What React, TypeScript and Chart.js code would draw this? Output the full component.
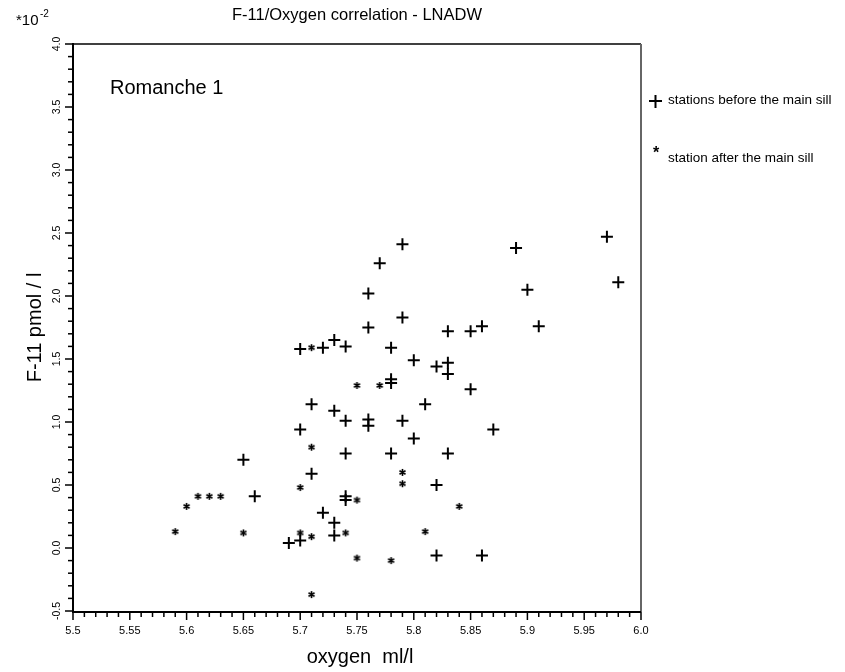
import React, { useEffect, useRef } from 'react';
import { Chart, registerables } from 'chart.js';

Chart.register(...registerables);

// stations before the main sill (+)
const beforeOxygen = [5.70, 5.72, 5.73, 5.74, 5.78, 5.78, 5.78, 5.71, 5.73, 5.74, 5.76, 5.76, 5.70, 5.74, 5.78, 5.65, 5.71, 5.66, 5.74, 5.74, 5.72, 5.73, 5.73, 5.70, 5.69, 5.76, 5.77, 5.76, 5.79, 5.89, 5.97, 5.98, 5.90, 5.79, 5.83, 5.85, 5.86, 5.91, 5.80, 5.82, 5.83, 5.83, 5.85, 5.81, 5.79, 5.80, 5.87, 5.83, 5.82, 5.82, 5.86];
const beforeF11 = [1.58, 1.59, 1.65, 1.60, 1.59, 1.34, 1.31, 1.14, 1.09, 1.01, 1.02, 0.97, 0.94, 0.75, 0.75, 0.70, 0.59, 0.41, 0.41, 0.38, 0.28, 0.20, 0.10, 0.06, 0.04, 1.75, 2.26, 2.02, 2.41, 2.38, 2.47, 2.11, 2.05, 1.83, 1.72, 1.72, 1.76, 1.76, 1.49, 1.44, 1.47, 1.38, 1.26, 1.14, 1.01, 0.87, 0.94, 0.75, 0.50, -0.06, -0.06];

// station after the main sill (*)
const afterOxygen = [5.71, 5.75, 5.77, 5.71, 5.70, 5.61, 5.62, 5.63, 5.60, 5.75, 5.59, 5.65, 5.70, 5.71, 5.74, 5.75, 5.78, 5.71, 5.79, 5.79, 5.84, 5.81];
const afterF11 = [1.59, 1.29, 1.29, 0.80, 0.48, 0.41, 0.41, 0.41, 0.33, 0.38, 0.13, 0.12, 0.12, 0.09, 0.12, -0.08, -0.10, -0.37, 0.60, 0.51, 0.33, 0.13];

const xTickValues = [5.5, 5.55, 5.6, 5.65, 5.7, 5.75, 5.8, 5.85, 5.9, 5.95, 6.0];
const xTickLabels = ['5.5', '5.55', '5.6', '5.65', '5.7', '5.75', '5.8', '5.85', '5.9', '5.95', '6.0'];
const yTickValues = [-0.5, 0, 0.5, 1.0, 1.5, 2.0, 2.5, 3.0, 3.5, 4.0];
const yTickLabels = ['-0.5', '0.0', '0.5', '1.0', '1.5', '2.0', '2.5', '3.0', '3.5', '4.0'];

const titleText = 'F-11/Oxygen correlation - LNADW';
const xTitle = 'oxygen  ml/l';
const yTitle = 'F-11 pmol / l';
const panelLabel = 'Romanche 1';
const legendBefore = 'stations before the main sill';
const legendAfter = 'station after the main sill';

const FONT = '"Liberation Sans", Arial, Helvetica, sans-serif';

function makeAsterisk(size: number, lw: number): HTMLCanvasElement {
  const c = document.createElement('canvas');
  c.width = size;
  c.height = size;
  const g = c.getContext('2d')!;
  const m = size / 2;
  const r = size / 2 - 1;
  g.strokeStyle = '#000';
  g.lineWidth = lw;
  g.lineCap = 'butt';
  g.beginPath();
  for (let k = 0; k < 3; k++) {
    const a = Math.PI / 2 + (k * Math.PI) / 3;
    g.moveTo(m - Math.cos(a) * r, m - Math.sin(a) * r);
    g.lineTo(m + Math.cos(a) * r, m + Math.sin(a) * r);
  }
  g.stroke();
  return c;
}

const decorPlugin = {
  id: 'decor',
  afterDraw(chart: any) {
    const ctx = chart.ctx as CanvasRenderingContext2D;
    const xs = chart.scales.x;
    const ys = chart.scales.y;
    const { left, right, top, bottom } = chart.chartArea;
    ctx.save();
    ctx.fillStyle = '#000';
    ctx.strokeStyle = '#000';

    // frame
    ctx.lineWidth = 1.5;
    ctx.beginPath();
    ctx.moveTo(left, top);
    ctx.lineTo(right, top);
    ctx.stroke();
    ctx.strokeStyle = '#666';
    ctx.lineWidth = 2;
    ctx.beginPath();
    ctx.moveTo(right, top);
    ctx.lineTo(right, bottom + 1);
    ctx.stroke();
    ctx.strokeStyle = '#000';
    ctx.lineWidth = 2;
    ctx.beginPath();
    ctx.moveTo(left, top - 1);
    ctx.lineTo(left, bottom + 1);
    ctx.lineTo(right, bottom + 1);
    ctx.stroke();

    // x ticks (minor 0.01, major 0.05)
    ctx.lineWidth = 1.5;
    for (let i = 0; i <= 50; i++) {
      const v = 5.5 + i * 0.01;
      const px = xs.getPixelForValue(v);
      const len = i % 5 === 0 ? 8 : 5;
      ctx.beginPath();
      ctx.moveTo(px, bottom + 1);
      ctx.lineTo(px, bottom + 1 + len);
      ctx.stroke();
    }
    // y ticks (minor 0.1, major 0.5)
    for (let i = 0; i <= 45; i++) {
      const v = -0.5 + i * 0.1;
      const py = ys.getPixelForValue(v);
      const len = i % 5 === 0 ? 8 : 5;
      ctx.beginPath();
      ctx.moveTo(left, py);
      ctx.lineTo(left - len, py);
      ctx.stroke();
    }

    // x tick labels
    ctx.font = `11px ${FONT}`;
    ctx.textAlign = 'center';
    ctx.textBaseline = 'middle';
    xTickValues.forEach((v, i) => {
      ctx.fillText(xTickLabels[i], xs.getPixelForValue(v), bottom + 20);
    });
    // y tick labels (rotated)
    ctx.font = `10.5px ${FONT}`;
    yTickValues.forEach((v, i) => {
      const py = ys.getPixelForValue(v);
      ctx.save();
      ctx.translate(left - 16, py);
      ctx.rotate(-Math.PI / 2);
      ctx.fillText(yTickLabels[i], 0, 0);
      ctx.restore();
    });

    // axis titles
    ctx.font = `20px ${FONT}`;
    ctx.fillText(xTitle, (left + right) / 2 + 3, bottom + 46);
    ctx.save();
    ctx.translate(35, (top + bottom) / 2);
    ctx.rotate(-Math.PI / 2);
    ctx.fillText(yTitle, 0, 0);
    ctx.restore();

    // title
    ctx.font = `16.5px ${FONT}`;
    ctx.fillText(titleText, (left + right) / 2, 15);

    // scale factor
    ctx.textAlign = 'left';
    ctx.font = `15px ${FONT}`;
    ctx.fillText('*10', 16, 21);
    ctx.font = `10px ${FONT}`;
    ctx.fillText('-2', 40, 14);

    // panel label
    ctx.font = `20px ${FONT}`;
    ctx.fillText(panelLabel, 110, 88);

    // legend
    ctx.font = `13.5px ${FONT}`;
    ctx.fillText(legendBefore, 668, 100);
    ctx.fillText(legendAfter, 668, 158);
    ctx.lineWidth = 2;
    ctx.beginPath();
    ctx.moveTo(649, 101);
    ctx.lineTo(662, 101);
    ctx.moveTo(655.5, 95);
    ctx.lineTo(655.5, 108);
    ctx.stroke();
    ctx.font = `bold 16px ${FONT}`;
    ctx.textAlign = 'center';
    ctx.fillText('*', 656, 154);

    ctx.restore();
  },
};

export default function App() {
  const ref = useRef<HTMLCanvasElement>(null);
  useEffect(() => {
    if (!ref.current) return;
    const star = makeAsterisk(9, 1.6);
    const chart = new Chart(ref.current, {
      type: 'scatter',
      data: {
        datasets: [
          {
            label: legendBefore,
            data: beforeOxygen.map((x, i) => ({ x, y: beforeF11[i] })),
            pointStyle: 'cross',
            pointRadius: 6,
            pointBorderWidth: 2,
            borderColor: '#000',
            backgroundColor: '#000',
          },
          {
            label: legendAfter,
            data: afterOxygen.map((x, i) => ({ x, y: afterF11[i] })),
            pointStyle: star as any,
            pointRadius: 4.5,
            borderColor: '#000',
            backgroundColor: '#000',
          },
        ],
      },
      options: {
        responsive: false,
        animation: false,
        layout: { padding: { left: 73, top: 44, right: 204, bottom: 61 } },
        scales: {
          x: { type: 'linear', min: 5.5, max: 6.0, display: false },
          y: { type: 'linear', min: -0.5, max: 4.0, display: false },
        },
        plugins: {
          legend: { display: false },
          tooltip: { enabled: false },
          title: { display: false },
        },
      },
      plugins: [decorPlugin],
    });
    return () => chart.destroy();
  }, []);

  return (
    <div style={{ position: 'fixed', left: 0, top: 0, width: 845, height: 672, background: '#fff' }}>
      <canvas ref={ref} width={845} height={672} style={{ display: 'block' }} />
    </div>
  );
}
